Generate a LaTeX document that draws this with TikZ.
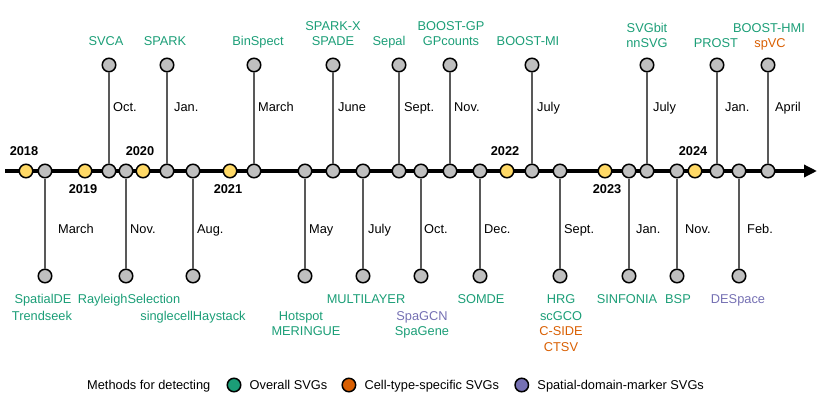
\documentclass[tikz,border=0pt]{standalone}
\usepackage{fontspec}
\setmainfont{Liberation Sans}
\usetikzlibrary{positioning,arrows.meta}
\definecolor{ovr}{HTML}{1B9E77}
\definecolor{cts}{HTML}{D95F02}
\definecolor{sdm}{HTML}{7570B3}
\definecolor{yr}{RGB}{255,217,102}

\begin{document}
\begin{tikzpicture}[x=1pt, y=-1pt, font=\fontsize{12.8}{15}\selectfont,
  ev/.style={circle, draw, line width=1.5pt, fill=gray!50, minimum size=13.5pt, inner sep=0pt},
  yrdot/.style={ev, fill=yr},
  stem/.style={line width=1.5pt, black!65},
  axis/.style={line width=4pt, -{Triangle[length=13pt, width=12pt]}},
  txt/.style={inner sep=0pt, text height=9.2pt, text depth=0pt},
  mon/.style={txt, anchor=west},
  yearlab/.style={txt, font=\fontsize{12.8}{15}\selectfont\bfseries},
  meth/.style={txt, text=ovr}]
  \useasboundingbox (0,0) rectangle (830,412);

  \coordinate (start) at (5,171);
  \coordinate (end) at (817,171);
  \draw[axis] (start) -- (end);

  \node[yrdot] (y18) at (26,171) {};  \node[yearlab] (l18) at (24,151) {2018};
  \node[yrdot] (y19) at (85,171) {};  \node[yearlab] (l19) at (83,189) {2019};
  \node[yrdot] (y20) at (143,171) {}; \node[yearlab] (l20) at (140,151) {2020};
  \node[yrdot] (y21) at (230,171) {}; \node[yearlab] (l21) at (228,189) {2021};
  \node[yrdot] (y22) at (507,171) {}; \node[yearlab] (l22) at (505,151) {2022};
  \node[yrdot] (y23) at (605,171) {}; \node[yearlab] (l23) at (607,189) {2023};
  \node[yrdot] (y24) at (695,171) {}; \node[yearlab] (l24) at (693,151) {2024};

  \node[ev] (a1) at (45,171) {};  \node[ev] (b1) at (45,276) {};  \draw[stem] (a1) -- (b1);  \node[mon] (c1) at (58,229) {March};
  \node[ev] (a2) at (109,171) {}; \node[ev] (b2) at (109,65) {};  \draw[stem] (a2) -- (b2);  \node[mon] (c2) at (113,107) {Oct.};
  \node[ev] (a3) at (126,171) {}; \node[ev] (b3) at (126,276) {}; \draw[stem] (a3) -- (b3);  \node[mon] (c3) at (130,229) {Nov.};
  \node[ev] (a4) at (167,171) {}; \node[ev] (b4) at (167,65) {};  \draw[stem] (a4) -- (b4);  \node[mon] (c4) at (174,107) {Jan.};
  \node[ev] (a5) at (193,171) {}; \node[ev] (b5) at (193,276) {}; \draw[stem] (a5) -- (b5);  \node[mon] (c5) at (197,229) {Aug.};
  \node[ev] (a6) at (254,171) {}; \node[ev] (b6) at (254,65) {};  \draw[stem] (a6) -- (b6);  \node[mon] (c6) at (258,107) {March};
  \node[ev] (a7) at (305,171) {}; \node[ev] (b7) at (305,276) {}; \draw[stem] (a7) -- (b7);  \node[mon] (c7) at (309,229) {May};
  \node[ev] (a8) at (333,171) {}; \node[ev] (b8) at (333,65) {};  \draw[stem] (a8) -- (b8);  \node[mon] (c8) at (338,107) {June};
  \node[ev] (a9) at (363,171) {}; \node[ev] (b9) at (363,276) {}; \draw[stem] (a9) -- (b9);  \node[mon] (c9) at (368,229) {July};
  \node[ev] (a10) at (399,171) {}; \node[ev] (b10) at (399,65) {};  \draw[stem] (a10) -- (b10); \node[mon] (c10) at (404,107) {Sept.};
  \node[ev] (a11) at (421,171) {}; \node[ev] (b11) at (421,276) {}; \draw[stem] (a11) -- (b11); \node[mon] (c11) at (424,229) {Oct.};
  \node[ev] (a12) at (450,171) {}; \node[ev] (b12) at (450,65) {};  \draw[stem] (a12) -- (b12); \node[mon] (c12) at (454,107) {Nov.};
  \node[ev] (a13) at (480,171) {}; \node[ev] (b13) at (480,276) {}; \draw[stem] (a13) -- (b13); \node[mon] (c13) at (484,229) {Dec.};
  \node[ev] (a14) at (532,171) {}; \node[ev] (b14) at (532,65) {};  \draw[stem] (a14) -- (b14); \node[mon] (c14) at (537,107) {July};
  \node[ev] (a15) at (560,171) {}; \node[ev] (b15) at (560,276) {}; \draw[stem] (a15) -- (b15); \node[mon] (c15) at (564,229) {Sept.};
  \node[ev] (a16) at (629,171) {}; \node[ev] (b16) at (629,276) {}; \draw[stem] (a16) -- (b16); \node[mon] (c16) at (636,229) {Jan.};
  \node[ev] (a17) at (647,171) {}; \node[ev] (b17) at (647,65) {};  \draw[stem] (a17) -- (b17); \node[mon] (c17) at (653,107) {July};
  \node[ev] (a18) at (677,171) {}; \node[ev] (b18) at (677,276) {}; \draw[stem] (a18) -- (b18); \node[mon] (c18) at (685,229) {Nov.};
  \node[ev] (a19) at (717,171) {}; \node[ev] (b19) at (717,65) {};  \draw[stem] (a19) -- (b19); \node[mon] (c19) at (725,107) {Jan.};
  \node[ev] (a20) at (739,171) {}; \node[ev] (b20) at (739,276) {}; \draw[stem] (a20) -- (b20); \node[mon] (c20) at (747,229) {Feb.};
  \node[ev] (a21) at (768,171) {}; \node[ev] (b21) at (768,65) {};  \draw[stem] (a21) -- (b21); \node[mon] (c21) at (775,107) {April};

  \node[meth] (m2) at (106,41) {SVCA};
  \node[meth] (m4) at (165,41) {SPARK};
  \node[meth] (m6) at (258,41) {BinSpect};
  \node[meth] (m8a) at (333,26) {SPARK-X};
  \node[meth] (m8b) at (333,41) {SPADE};
  \node[meth] (m10) at (389,41) {Sepal};
  \node[meth] (m12a) at (451,26) {BOOST-GP};
  \node[meth] (m12b) at (451,41) {GPcounts};
  \node[meth] (m14) at (528,41) {BOOST-MI};
  \node[meth] (m17a) at (647,28) {SVGbit};
  \node[meth] (m17b) at (647,43) {nnSVG};
  \node[meth] (m19) at (716,43) {PROST};
  \node[meth] (m21a) at (769,28) {BOOST-HMI};
  \node[meth, text=cts] (m21b) at (770,43) {spVC};

  \node[meth] (m1a) at (43,299) {SpatialDE};
  \node[meth] (m1b) at (42,316) {Trendseek};
  \node[meth] (m3) at (129,299) {RayleighSelection};
  \node[meth] (m5) at (193,316) {singlecellHaystack};
  \node[meth] (m7a) at (301,316) {Hotspot};
  \node[meth] (m7b) at (306,331) {MERINGUE};
  \node[meth] (m9) at (366,299) {MULTILAYER};
  \node[meth, text=sdm] (m11a) at (422,316) {SpaGCN};
  \node[meth] (m11b) at (422,331) {SpaGene};
  \node[meth] (m13) at (481,299) {SOMDE};
  \node[meth] (m15a) at (561,299) {HRG};
  \node[meth] (m15b) at (561,316) {scGCO};
  \node[meth, text=cts] (m15c) at (561,331) {C-SIDE};
  \node[meth, text=cts] (m15d) at (561,347) {CTSV};
  \node[meth] (m16) at (627,299) {SINFONIA};
  \node[meth] (m18) at (678,299) {BSP};
  \node[meth, text=sdm] (m20) at (738,299) {DESpace};

  \node[mon] (key) at (87,385) {Methods for detecting};
  \node[ev, fill=ovr, right=16pt of key] (k1) {};
  \node[mon, right=8pt of k1] (t1) {Overall SVGs};
  \node[ev, fill=cts, right=14pt of t1] (k2) {};
  \node[mon, right=8pt of k2] (t2) {Cell-type-specific SVGs};
  \node[ev, fill=sdm, right=15pt of t2] (k3) {};
  \node[mon, right=8pt of k3] (t3) {Spatial-domain-marker SVGs};
\end{tikzpicture}
\end{document}
